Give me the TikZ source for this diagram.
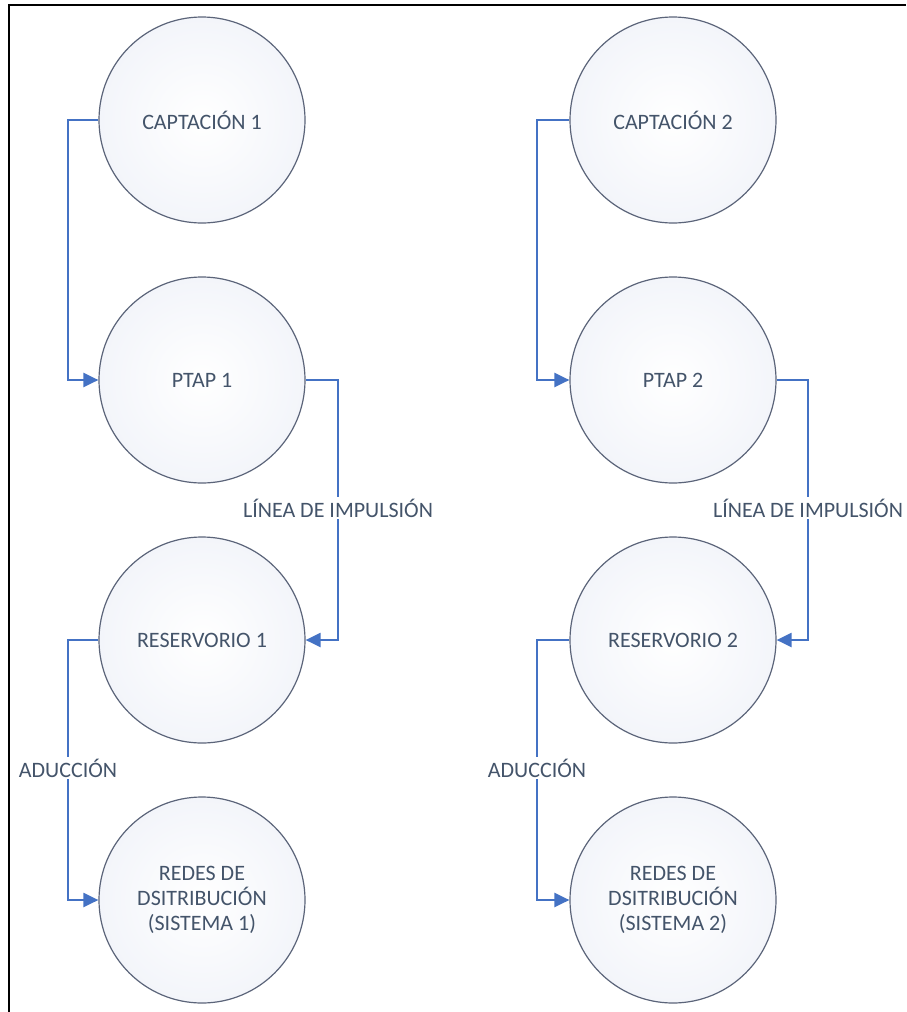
\documentclass[tikz,border=0pt]{standalone}
\usepackage{fontspec}
\setmainfont{Carlito}
\usetikzlibrary{arrows.meta}
\definecolor{txt}{HTML}{44546A}
\definecolor{lnk}{HTML}{4472C4}
\definecolor{ring}{HTML}{5B6479}
\definecolor{fillc}{HTML}{F3F5FA}
\tikzset{
  stage/.style={circle, draw=ring, line width=1.2pt, inner color=white, outer color=fillc,
    minimum size=206pt, inner sep=0pt, text=txt, font=\fontsize{22}{25}\selectfont, align=center},
  conn/.style={draw=lnk, line width=2.2pt, -{Triangle[length=15pt,width=14pt]}},
  lbl/.style={fill=white, text=txt, font=\fontsize{22}{25}\selectfont, inner sep=2pt}
}
\begin{document}
\begin{tikzpicture}[x=1pt,y=-1pt]
\useasboundingbox (0,0) rectangle (906,1012);
\draw[line width=2pt, black] (9,1012) -- (9,5) -- (906,5);
% left column
\node[stage] (c1) at (202,120) {CAPTACIÓN 1};
\node[stage] (p1) at (202,380) {PTAP 1};
\node[stage] (r1) at (202,640) {RESERVORIO 1};
\node[stage] (d1) at (202,900) {REDES DE\\DSITRIBUCIÓN\\(SISTEMA 1)};
% right column
\node[stage] (c2) at (673,120) {CAPTACIÓN 2};
\node[stage] (p2) at (673,380) {PTAP 2};
\node[stage] (r2) at (673,640) {RESERVORIO 2};
\node[stage] (d2) at (673,900) {REDES DE\\DSITRIBUCIÓN\\(SISTEMA 2)};
% coordinates for bends
\coordinate (a1) at (68,120);
\coordinate (a2) at (68,380);
\coordinate (b1) at (338,380);
\coordinate (b2) at (338,640);
\coordinate (e1) at (68,640);
\coordinate (e2) at (68,900);
\coordinate (f1) at (537,120);
\coordinate (f2) at (537,380);
\coordinate (g1) at (808,380);
\coordinate (g2) at (808,640);
\coordinate (h1) at (537,640);
\coordinate (h2) at (537,900);
% connectors
\draw[conn] (c1.west) -- (a1) -- (a2) -- (p1.west);
\draw[conn] (p1.east) -- (b1) -- (b2) -- (r1.east);
\draw[conn] (r1.west) -- (e1) -- (e2) -- (d1.west);
\draw[conn] (c2.west) -- (f1) -- (f2) -- (p2.west);
\draw[conn] (p2.east) -- (g1) -- (g2) -- (r2.east);
\draw[conn] (r2.west) -- (h1) -- (h2) -- (d2.west);
% labels
\node[lbl] (l1) at (338,508) {LÍNEA DE IMPULSIÓN};
\node[lbl] (l2) at (808,508) {LÍNEA DE IMPULSIÓN};
\node[lbl] (l3) at (68,768) {ADUCCIÓN};
\node[lbl] (l4) at (537,768) {ADUCCIÓN};
\end{tikzpicture}
\end{document}
